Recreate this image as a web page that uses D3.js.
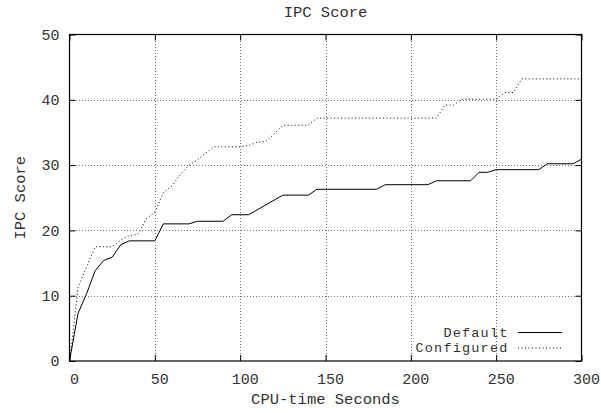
<!DOCTYPE html>
<html>
<head>
<meta charset="utf-8">
<script src="https://cdn.jsdelivr.net/npm/d3@7"></script>
<style>
  body { margin: 0; background: #fff; }
  text { font-family: "Liberation Mono", "DejaVu Sans Mono", monospace; fill: #333; }
</style>
</head>
<body>
<svg id="stage" width="601" height="413"></svg>
<script>
// Series values (CPU-time seconds, IPC score)
const defaultX = [0, 5, 10, 15, 20, 25, 30, 35, 50, 55, 70, 75, 90, 95, 105, 125, 140, 145, 180, 185, 210, 215, 235, 240, 245, 250, 275, 280, 295, 300];
const defaultY = [0, 7.3, 10.3, 13.8, 15.4, 15.9, 17.8, 18.4, 18.4, 21.0, 21.0, 21.4, 21.4, 22.4, 22.4, 25.4, 25.4, 26.3, 26.3, 27.0, 27.0, 27.6, 27.6, 28.9, 28.9, 29.3, 29.3, 30.2, 30.2, 30.9];

const configuredX = [0, 2, 5, 10, 15, 25, 30, 35, 40, 45, 50, 55, 60, 65, 70, 75, 80, 85, 100, 105, 110, 115, 120, 125, 140, 145, 215, 220, 225, 230, 250, 255, 260, 265, 300];
const configuredY = [0, 4.2, 11.3, 14.4, 17.5, 17.5, 18.5, 19.2, 19.4, 21.8, 22.8, 25.8, 26.8, 28.6, 30.0, 30.8, 31.9, 32.8, 32.8, 33.0, 33.5, 33.6, 34.8, 36.1, 36.1, 37.2, 37.2, 39.2, 39.2, 40.1, 40.1, 41.1, 41.1, 43.2, 43.2];

const seriesNames = ["Default", "Configured"];
const xTicks = [0, 50, 100, 150, 200, 250, 300];
const yTicks = [0, 10, 20, 30, 40, 50];

// plot box
const plotLeft = 69.5, plotRight = 581.5, plotTop = 34.5, plotBottom = 361;
const tickLen = 6;

const svg = d3.select("#stage");

const x = d3.scaleLinear().domain([0, 300]).range([plotLeft, plotRight]);
const y = d3.scaleLinear().domain([0, 50]).range([plotBottom, plotTop]);

// grid
const grid = svg.append("g")
  .attr("stroke", "#777")
  .attr("stroke-width", 1)
  .attr("stroke-dasharray", "1,2")
  .attr("shape-rendering", "crispEdges");
grid.selectAll(".gx")
  .data(xTicks.slice(1, -1))
  .enter()
  .append("line")
  .attr("x1", (d) => Math.round(x(d)) + 0.5)
  .attr("x2", (d) => Math.round(x(d)) + 0.5)
  .attr("y1", plotTop)
  .attr("y2", plotBottom);
grid.selectAll(".gy")
  .data(yTicks.slice(1, -1))
  .enter()
  .append("line")
  .attr("x1", plotLeft)
  .attr("x2", plotRight)
  .attr("y1", (d) => Math.round(y(d)) + 0.5)
  .attr("y2", (d) => Math.round(y(d)) + 0.5);

// axes: ticks on all four sides, pointing inward
const axisStyle = (g) => {
  g.select(".domain").remove();
  g.selectAll(".tick line").attr("stroke", "#000");
  g.selectAll(".tick text").style("font-size", "15px").attr("fill", "#333");
};

svg.append("g")
  .attr("transform", `translate(0,${plotBottom})`)
  .call(d3.axisBottom(x).tickValues(xTicks).tickSize(-tickLen).tickPadding(12))
  .call(axisStyle)
  .call((g) => g.selectAll(".tick text").attr("dx", 4.5));

svg.append("g")
  .attr("transform", `translate(0,${plotTop})`)
  .call(d3.axisTop(x).tickValues(xTicks).tickSize(-tickLen).tickFormat(""))
  .call(axisStyle);

svg.append("g")
  .attr("transform", `translate(${plotLeft},0)`)
  .call(d3.axisLeft(y).tickValues(yTicks).tickSize(-tickLen).tickPadding(10))
  .call(axisStyle);

svg.append("g")
  .attr("transform", `translate(${plotRight},0)`)
  .call(d3.axisRight(y).tickValues(yTicks).tickSize(-tickLen).tickFormat(""))
  .call(axisStyle);

// border
svg.append("rect")
  .attr("x", plotLeft)
  .attr("y", plotTop)
  .attr("width", plotRight - plotLeft)
  .attr("height", plotBottom - plotTop)
  .attr("fill", "none")
  .attr("stroke", "#000")
  .attr("stroke-width", 1.2);

// series lines
const line = d3.line().x((d) => x(d[0])).y((d) => y(d[1]));
const defaultData = defaultX.map((v, i) => [v, defaultY[i]]);
const configuredData = configuredX.map((v, i) => [v, configuredY[i]]);

svg.append("path")
  .datum(defaultData)
  .attr("d", line)
  .attr("fill", "none")
  .attr("stroke", "#000")
  .attr("stroke-width", 1);

svg.append("path")
  .datum(configuredData)
  .attr("d", line)
  .attr("fill", "none")
  .attr("stroke", "#000")
  .attr("stroke-width", 1)
  .attr("stroke-dasharray", "1,2.5");

// legend (slightly smaller glyphs, widened with letter-spacing, so rows don't collide)
const legend = svg.append("g");
seriesNames.forEach((name, i) => {
  const ly = 332 + i * 15.5;
  legend.append("text")
    .attr("x", 508.5)
    .attr("y", ly)
    .attr("dy", "0.35em")
    .attr("text-anchor", "end")
    .style("font-size", "13.5px")
    .style("letter-spacing", "1.2px")
    .text(name);
  legend.append("line")
    .attr("x1", 518)
    .attr("x2", 562)
    .attr("y1", ly + 0.5)
    .attr("y2", ly + 0.5)
    .attr("stroke", "#000")
    .attr("stroke-width", 1)
    .attr("stroke-dasharray", i === 0 ? null : "1,2.5");
});

// titles
svg.append("text")
  .attr("x", (plotLeft + plotRight) / 2)
  .attr("y", 17)
  .attr("text-anchor", "middle")
  .style("font-size", "15.5px")
  .text("IPC Score");

svg.append("text")
  .attr("x", (plotLeft + plotRight) / 2)
  .attr("y", 404)
  .attr("text-anchor", "middle")
  .style("font-size", "15.5px")
  .text("CPU-time Seconds");

svg.append("text")
  .attr("transform", `translate(25,${(plotTop + plotBottom) / 2}) rotate(-90)`)
  .attr("text-anchor", "middle")
  .style("font-size", "15.5px")
  .text("IPC Score");
</script>
</body>
</html>
